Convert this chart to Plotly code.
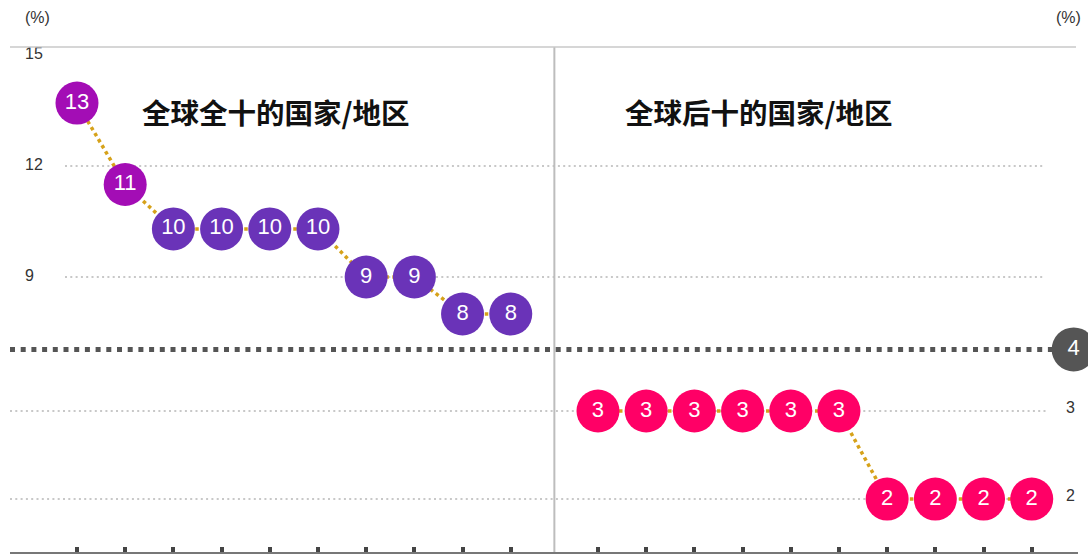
import plotly.graph_objects as go

# ---------------- data ----------------
top_title = "全球全十的国家/地区"
bottom_title = "全球后十的国家/地区"
top10_values = [13.7, 11.5, 10.3, 10.3, 10.3, 10.3, 9.0, 9.0, 8.0, 8.0]
top10_labels = ["13", "11", "10", "10", "10", "10", "9", "9", "8", "8"]
top10_colors = ["#a30db5", "#a30db5", "#6a33b8", "#6a33b8", "#6a33b8",
                "#6a33b8", "#6a33b8", "#6a33b8", "#6a33b8", "#6a33b8"]
bottom10_values = [3.0, 3.0, 3.0, 3.0, 3.0, 3.0, 2.0, 2.0, 2.0, 2.0]
bottom10_labels = ["3", "3", "3", "3", "3", "3", "2", "2", "2", "2"]
global_avg = 3.7
global_avg_label = "4"
left_ticks = [9, 12, 15]
right_ticks = [2, 3]
unit_label = "(%)"

# ---------------- layout helpers ----------------
W, H = 1088, 555
ML, MR, MT, MB = 10, 10, 47, 3
gap = 1.81                      # extra spacing between the two groups
x_top = list(range(len(top10_values)))
x_bot = [len(top10_values) - 1 + gap + i for i in range(len(bottom10_values))]
x_range = [-1.39, 20.77]
avg_x_end = 20.68
sep_x = (x_top[-1] + x_bot[0]) / 2

fig = go.Figure()

# global average dashed line + bubble
fig.add_trace(go.Scatter(
    x=[x_range[0], avg_x_end], y=[global_avg, global_avg], yaxis="y2",
    mode="lines", line=dict(color="#555555", width=5, dash="5px,5.7px"),
    hoverinfo="skip", cliponaxis=False, showlegend=False))
fig.add_trace(go.Scatter(
    x=[avg_x_end], y=[global_avg], yaxis="y2", mode="markers+text",
    marker=dict(size=44, color="#555555"), text=[global_avg_label],
    textposition="middle center",
    textfont=dict(color="white", size=22, family="Liberation Sans, Arial"),
    cliponaxis=False, showlegend=False))

# top ten
fig.add_trace(go.Scatter(
    x=x_top, y=top10_values, yaxis="y", mode="lines+markers+text",
    line=dict(color="#d6a21a", width=3.5, dash="dot"),
    marker=dict(size=43, color=top10_colors),
    text=top10_labels, textposition="middle center",
    textfont=dict(color="white", size=22, family="Liberation Sans, Arial"),
    cliponaxis=False, showlegend=False))

# bottom ten
fig.add_trace(go.Scatter(
    x=x_bot, y=bottom10_values, yaxis="y2", mode="lines+markers+text",
    line=dict(color="#d6a21a", width=3.5, dash="dot"),
    marker=dict(size=43, color="#ff0066"),
    text=bottom10_labels, textposition="middle center",
    textfont=dict(color="white", size=22, family="Liberation Sans, Arial"),
    cliponaxis=False, showlegend=False))

shapes = []
plot_w = W - ML - MR
# left gridlines
for v in left_ticks[:-1]:
    shapes.append(dict(type="line", xref="paper", yref="y",
                       x0=(65 - ML) / plot_w, x1=(1045 - ML) / plot_w, y0=v, y1=v,
                       line=dict(color="#c8c8c8", width=2, dash="2px,3.3px"),
                       layer="below"))
# right gridlines
for v in right_ticks:
    shapes.append(dict(type="line", xref="paper", yref="y2",
                       x0=0, x1=(1048 - ML) / plot_w, y0=v, y1=v,
                       line=dict(color="#c8c8c8", width=2, dash="2px,3.3px"),
                       layer="below"))
# top border
shapes.append(dict(type="line", xref="paper", yref="paper",
                   x0=0, x1=(1076 - ML) / plot_w, y0=1, y1=1,
                   line=dict(color="#c8c8c8", width=1.5)))
# separator
shapes.append(dict(type="line", xref="x", yref="paper",
                   x0=sep_x, x1=sep_x, y0=0, y1=1,
                   line=dict(color="#bdbdbd", width=2), layer="below"))

plot_h = H - MT - MB
title_y = 1 - (111 - MT) / plot_h
unit_y = 1 + (MT - 18) / plot_h
annotations = [
    dict(text="<b>" + top_title + "</b>", xref="paper", yref="paper",
         x=(276 - ML) / plot_w, y=title_y, xanchor="center", yanchor="middle",
         showarrow=False,
         font=dict(size=28.5, color="#111111", family="Noto Sans CJK SC")),
    dict(text="<b>" + bottom_title + "</b>", xref="paper", yref="paper",
         x=(759 - ML) / plot_w, y=title_y, xanchor="center", yanchor="middle",
         showarrow=False,
         font=dict(size=28.5, color="#111111", family="Noto Sans CJK SC")),
    dict(text=unit_label, xref="paper", yref="paper", x=(37 - ML) / plot_w,
         y=unit_y, xanchor="center", yanchor="middle", showarrow=False,
         font=dict(size=16, color="#333333", family="Liberation Sans, Arial")),
    dict(text=unit_label, xref="paper", yref="paper", x=(1068 - ML) / plot_w,
         y=unit_y, xanchor="center", yanchor="middle", showarrow=False,
         font=dict(size=16, color="#333333", family="Liberation Sans, Arial")),
]

fig.update_layout(
    width=W, height=H,
    margin=dict(l=ML, r=MR, t=MT, b=MB),
    paper_bgcolor="white", plot_bgcolor="white",
    shapes=shapes, annotations=annotations,
    xaxis=dict(range=x_range, showgrid=False, zeroline=False,
               showline=True, linecolor="#777777", linewidth=1.5,
               tickvals=x_top + x_bot, ticks="inside", ticklen=5,
               tickwidth=4, tickcolor="#444444", showticklabels=False,
               fixedrange=True),
    yaxis=dict(range=[1.568, 15.216], tickvals=left_ticks,
               ticklabelposition="inside", ticklabelstandoff=12,
               ticklabeloverflow="allow", ticklabelshift=-2,
               showgrid=False, zeroline=False, showline=False, ticks="",
               tickfont=dict(size=16, color="#333333",
                             family="Liberation Sans, Arial")),
    yaxis2=dict(range=[1.398, 7.136], tickvals=right_ticks, overlaying="y",
                side="right", anchor="x",
                ticklabelposition="inside", ticklabelstandoff=0,
                ticklabeloverflow="allow", ticklabelshift=-4,
                showgrid=False, zeroline=False, showline=False, ticks="",
                tickfont=dict(size=16, color="#333333",
                              family="Liberation Sans, Arial")),
)

fig.write_html("out.html")
